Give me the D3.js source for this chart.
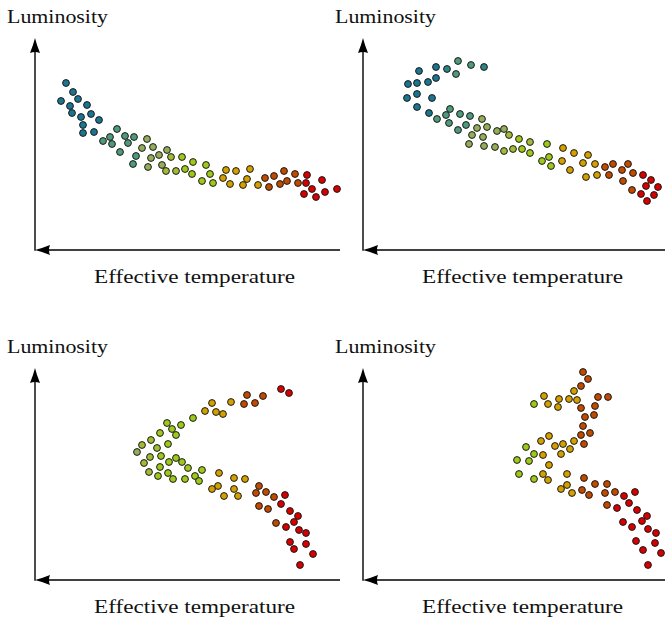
<!DOCTYPE html>
<html>
<head>
<meta charset="utf-8">
<script src="https://cdn.jsdelivr.net/npm/d3@7"></script>
<style>
  body { margin: 0; background: #fff; }
  svg { display: block; }
</style>
</head>
<body>
<svg id="chart" width="665" height="619"></svg>
<script>
// Labels
const yLabel = "Luminosity";
const xLabel = "Effective temperature";

// Color steps along the track (0 = teal ... 9 = red)
const colorSteps = ["#1c7590", "#2f8485", "#4f9a7a", "#93ad58", "#a2bb36",
                    "#9ec81a", "#d4a000", "#cc7000", "#bf4a00", "#d60000"];

// Stars: [temperature (arb. units, grows to the left), luminosity (arb. units), color step]
const track1 = [
  [274,167,0],[267,158,0],[279,149,0],[262,151,0],[270,144,0],[253,145,0],[268,137,0],
  [259,133,0],[249,136,0],[241,130,0],[257,125,0],[257,117,0],[246,118,0],[223,121,2],
  [237,109,2],[230,113,2],[215,114,2],[206,113,2],[193,111,3],[228,106,2],[212,107,2],
  [198,102,3],[220,98,2],[187,103,3],[173,100,3],[181,95,3],[204,94,2],[189,92,3],
  [169,93,4],[158,93,5],[147,88,5],[207,86,2],[192,83,3],[178,85,3],[174,79,4],
  [164,79,4],[155,81,5],[148,76,5],[134,85,5],[130,76,5],[138,69,5],[127,67,5],
  [114,80,6],[104,79,6],[90,81,6],[117,72,6],[93,71,6],[110,66,6],[97,65,6],[82,65,6],
  [75,72,8],[66,74,8],[56,79,8],[45,76,8],[71,63,8],[60,66,8],[53,69,8],[42,67,8],
  [33,75,9],[34,67,9],[28,61,9],[36,56,9],[24,53,9],[15,58,9],[3,61,9],[18,70,9]
];
const track2 = [
  [210,189,2],[197,185,2],[184,183,1],[232,183,0],[221,181,1],[249,179,0],[212,176,2],
  [232,172,0],[240,168,0],[251,167,0],[260,166,0],[251,156,0],[261,152,0],[236,152,0],
  [251,143,0],[239,137,0],[218,141,2],[231,131,2],[222,135,2],[208,136,2],[198,134,2],
  [186,131,3],[219,127,2],[210,120,2],[202,125,2],[191,122,3],[181,123,3],[171,119,3],
  [164,121,3],[196,115,3],[185,113,3],[159,115,4],[149,111,5],[199,106,3],[184,104,3],
  [173,103,3],[164,99,4],[155,101,4],[146,101,5],[138,108,4],[138,97,5],[121,106,5],
  [126,89,5],[119,93,5],[117,84,5],[105,102,6],[94,97,6],[80,95,6],[106,89,6],[85,87,6],
  [73,86,6],[98,80,6],[82,73,6],[71,75,6],[63,83,8],[55,86,8],[40,86,8],[59,75,8],
  [46,80,8],[35,77,8],[45,69,8],[36,60,8],[25,75,9],[17,70,9],[22,64,9],[10,63,9],
  [27,56,9],[14,55,9],[21,49,9]
];
const track3 = [
  [128,177,6],[135,169,6],[124,168,6],[117,166,6],[147,162,5],[173,157,5],[168,151,5],
  [159,155,5],[180,147,5],[164,145,5],[189,140,4],[198,135,4],[172,136,5],[183,132,4],
  [203,128,3],[190,123,4],[179,124,5],[164,122,5],[171,118,5],[158,118,5],[196,117,4],
  [180,113,5],[152,112,5],[138,110,5],[191,108,4],[172,107,5],[182,104,5],[145,104,5],
  [167,101,5],[155,101,5],[141,99,5],[121,107,6],[122,94,6],[128,91,6],[109,178,6],
  [93,185,8],[77,184,8],[96,176,8],[85,177,8],[59,191,9],[51,187,9],[106,102,6],
  [95,101,6],[116,84,6],[106,91,6],[102,84,6],[81,94,8],[84,87,8],[74,88,8],[66,83,8],
  [55,85,9],[81,74,8],[72,71,8],[59,76,9],[50,69,9],[42,64,9],[64,57,8],[54,53,9],
  [46,58,9],[41,50,9],[34,47,9],[50,38,9],[46,31,9],[34,36,9],[27,26,9],[40,15,9]
];
const track4 = [
  [85,208,8],[80,201,8],[87,194,8],[94,189,6],[124,184,6],[109,181,6],[99,181,6],
  [91,180,6],[70,183,8],[60,183,8],[134,176,5],[120,176,6],[110,173,6],[87,172,8],
  [73,174,8],[83,163,8],[74,165,8],[85,154,8],[87,145,8],[78,147,8],[119,144,6],
  [127,139,6],[113,134,6],[105,136,6],[94,139,6],[84,136,8],[142,133,5],[98,131,6],
  [134,126,5],[125,125,6],[107,126,6],[151,120,5],[139,119,5],[119,115,6],[149,106,5],
  [125,106,6],[134,101,5],[120,100,6],[101,106,6],[84,102,8],[73,96,8],[61,96,8],
  [101,95,6],[107,91,6],[96,87,6],[86,90,8],[79,85,8],[63,87,8],[53,88,8],[44,84,9],
  [33,88,9],[61,75,8],[51,72,9],[39,77,9],[31,70,9],[21,64,9],[26,59,9],[45,58,9],
  [36,53,9],[20,51,9],[12,47,9],[32,39,9],[13,37,9],[25,30,9],[7,27,9],[20,15,9]
];

const tracks = [track1, track2, track3, track4];
const offsets = [[0, 0], [328, 0], [0, 330], [328, 330]];

const svg = d3.select('#chart');

const x = d3.scaleLinear().domain([0, 305]).range([340, 35]);
const y = d3.scaleLinear().domain([0, 212]).range([250, 38]);
const color = d3.scaleOrdinal().domain(d3.range(colorSteps.length)).range(colorSteps);

// latex-style arrowhead pointing up, tip at origin
const arrowHead = 'M0,0 Q1.7,7 5,15 Q0,13 -5,15 Q-1.7,7 0,0 Z';

tracks.forEach(function(track, i) {
    const g = svg.append('g')
        .attr('transform', 'translate(' + offsets[i][0] + ',' + offsets[i][1] + ')');

    const x0 = x(0), y0 = y(0);
    const xEnd = x.range()[1], yEnd = y.range()[1];

    // axes
    g.append('line')
        .attr('x1', x0).attr('y1', y0)
        .attr('x2', xEnd + 12).attr('y2', y0)
        .attr('stroke', '#000').attr('stroke-width', 1.4);
    g.append('line')
        .attr('x1', xEnd).attr('y1', y0 + 0.7)
        .attr('x2', xEnd).attr('y2', yEnd + 12)
        .attr('stroke', '#000').attr('stroke-width', 1.4);
    g.append('path')
        .attr('d', arrowHead)
        .attr('transform', 'translate(' + xEnd + ',' + yEnd + ')')
        .attr('fill', '#000');
    g.append('path')
        .attr('d', arrowHead)
        .attr('transform', 'translate(' + xEnd + ',' + y0 + ') rotate(-90)')
        .attr('fill', '#000');

    // labels
    g.append('text')
        .attr('x', 7).attr('y', 22.5)
        .attr('font-family', '"Liberation Serif", "Times New Roman", "DejaVu Serif", serif')
        .attr('font-size', 19)
        .attr('fill', '#111')
        .attr('textLength', 101)
        .attr('lengthAdjust', 'spacingAndGlyphs')
        .text(yLabel);
    g.append('text')
        .attr('x', 94).attr('y', 282.5)
        .attr('font-family', '"Liberation Serif", "Times New Roman", "DejaVu Serif", serif')
        .attr('font-size', 19)
        .attr('fill', '#111')
        .attr('textLength', 201)
        .attr('lengthAdjust', 'spacingAndGlyphs')
        .text(xLabel);

    // stars
    g.selectAll('circle')
        .data(track)
        .enter()
        .append('circle')
        .attr('cx', d => x(d[0]))
        .attr('cy', d => y(d[1]))
        .attr('r', 3.4)
        .attr('fill', d => color(d[2]))
        .attr('stroke', '#1a1a1a')
        .attr('stroke-width', 1);
});
</script>
</body>
</html>
